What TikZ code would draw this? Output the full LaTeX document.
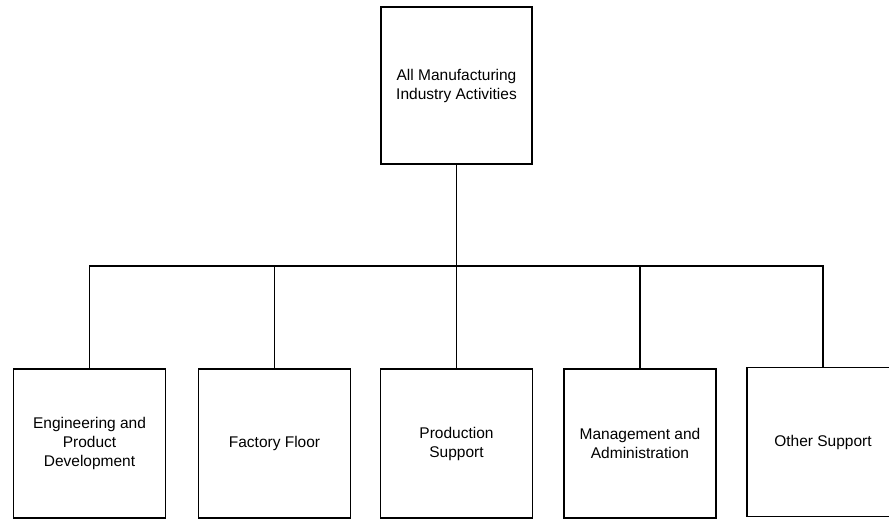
\documentclass[tikz,border=0pt]{standalone}
\usepackage{fontspec}
\setmainfont{Liberation Sans}
\begin{document}
\begin{tikzpicture}[x=1pt, y=1pt, line width=1.3pt,
  unit/.style={draw, align=center, minimum width=152pt, minimum height=149pt,
    font=\fontsize{15.5}{19}\selectfont}]
\useasboundingbox (0,0) rectangle (889,519);
\node[unit, minimum width=151pt, minimum height=157pt] (all) at (456.5,433.5) {All Manufacturing\\Industry Activities};
\node[unit] (eng) at (89.5,75.5) {Engineering and\\Product\\Development};
\node[unit] (floor) at (274.5,75.5) {Factory Floor};
\node[unit] (prod) at (456.5,75.5) {Production\\Support};
\node[unit] (mgmt) at (640,75.5) {Management and\\Administration};
\node[unit] (other) at (823,77) {Other Support};
\coordinate (bus) at (456.5,253);
\draw (all.south) -- (bus);
\draw (bus) -| (eng.north);
\draw (bus) -| (floor.north);
\draw (bus) -- (prod.north);
\draw (bus) -| (mgmt.north);
\draw (bus) -| (other.north);
\end{tikzpicture}
\end{document}
